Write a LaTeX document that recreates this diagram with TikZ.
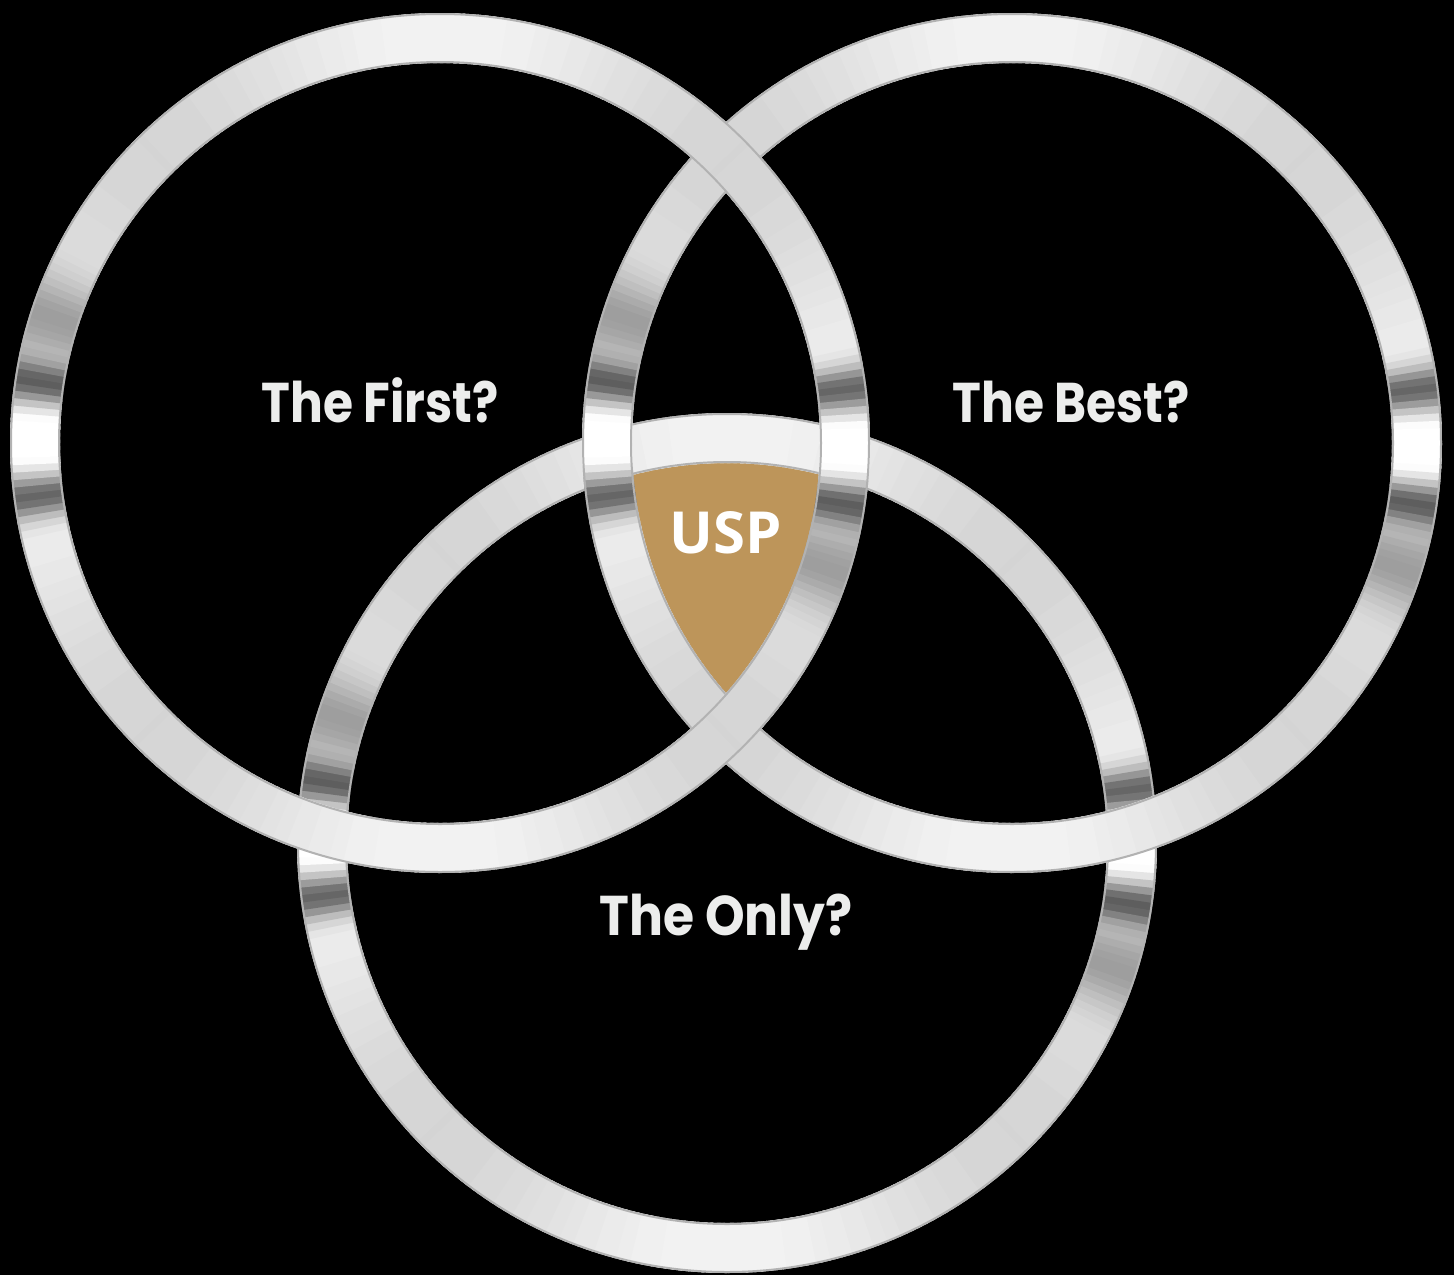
\documentclass[tikz,border=0pt]{standalone}
\usepackage{fontspec}
\setmainfont{Poppins}
\newfontfamily\uspfont{Open Sans}
\usepackage{graphicx}
\usepackage{tikz}
\usetikzlibrary{positioning}
\definecolor{uspgold}{RGB}{189,149,90}
\definecolor{labelgrey}{RGB}{236,237,236}
\tikzset{
ringedge/.style={draw=gray!60, line width=2pt}, % thin rim on both edges of a ring
question/.style={text=labelgrey, anchor=base, font=\fontsize{56}{60}\selectfont\bfseries}, % the three questions
usp/.style={text=white, anchor=base, font=\uspfont\fontsize{58}{60}\selectfont\bfseries}, % label in the middle
}
% metal ring round a named centre, brightness changes with the angle
\newcommand{\drawring}[1]{%
  \foreach \a in {0,1,...,359}{
    \pgfmathsetmacro{\d}{mod(\a+90,180)-90}
    \pgfmathtruncatemacro{\g}{min(100,max(25, 90+6*cos(4*\a)
      -55*exp(-min(20,((\d-8)/3)^2)) -55*exp(-min(20,((\d+8)/3)^2))
      -30*exp(-min(20,((\d-17)/6)^2)) +12*exp(-min(20,(\d/4)^2))))}
    \draw[line width=50pt, draw=white!\g!black] ([shift={(\a:405)}]#1) arc[start angle=\a, end angle=\a+1.5, radius=405];
  }
  \draw[ringedge] (#1) circle[radius=429];
  \draw[ringedge] (#1) circle[radius=381];
}

\begin{document}
\begin{tikzpicture}[x=1pt, y=-1pt]
  \fill[black] (0,0) rectangle (1454,1275);
  \useasboundingbox (0,0) rectangle (1454,1275);
  \coordinate (first) at (440,443);
  \coordinate (best) at (1012,443);
  \coordinate (only) at (727,843);
  % the part inside all three rings
  \begin{scope}
    \clip (first) circle[radius=381];
    \clip (best) circle[radius=381];
    \fill[uspgold] (only) circle[radius=381];
  \end{scope}
  \drawring{only}
  \drawring{best}
  \drawring{first}
  \node[question] (firstq) at (380,422) {\scalebox{0.87}[1]{The First?}};
  \node[question] (bestq) at (1071,422) {\scalebox{0.87}[1]{The Best?}};
  \node[question] (onlyq) at (726,935) {\scalebox{0.9}[1]{The Only?}};
  \node[usp] (uspq) at (726,553) {USP};
\end{tikzpicture}
\end{document}
